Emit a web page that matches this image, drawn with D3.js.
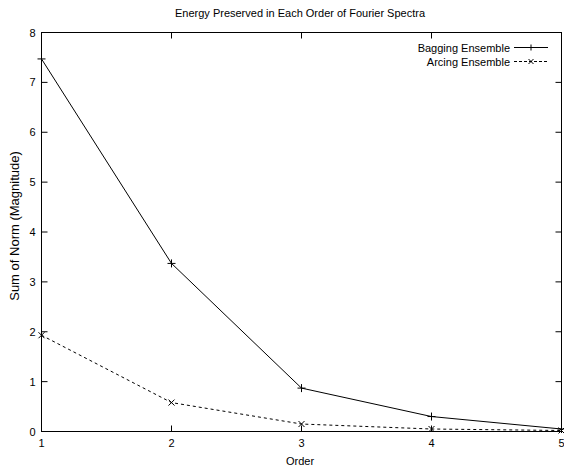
<!DOCTYPE html>
<html><head><meta charset="utf-8">
<script src="https://cdn.jsdelivr.net/npm/d3@7"></script>
<style>body{margin:0;background:#fff}svg{display:block;font-family:"Liberation Sans",Arial,sans-serif}</style>
</head><body>
<svg id="c" width="564" height="469"></svg>
<script>
const orders = [1, 2, 3, 4, 5];
const bagging = [7.47, 3.37, 0.87, 0.30, 0.05];
const arcing = [1.93, 0.58, 0.15, 0.05, 0.02];
const xTicks = [1, 2, 3, 4, 5];
const yTicks = [0, 1, 2, 3, 4, 5, 6, 7, 8];
const seriesNames = ["Bagging Ensemble", "Arcing Ensemble"];

const svg = d3.select("#c");
const L = 41.5, R = 561.5, T = 32.5, B = 431.5;
const x = d3.scaleLinear().domain([1, 5]).range([L, R]);
const y = d3.scaleLinear().domain([0, 8]).range([B, T]);

svg.append("rect").attr("x", L).attr("y", T).attr("width", R - L).attr("height", B - T)
  .attr("fill", "none").attr("stroke", "#000").attr("stroke-width", 1);

const tl = 6;
const g = svg.append("g").attr("stroke", "#000").attr("stroke-width", 1);
xTicks.forEach(t => {
  g.append("line").attr("x1", x(t)).attr("x2", x(t)).attr("y1", B).attr("y2", B - tl);
  g.append("line").attr("x1", x(t)).attr("x2", x(t)).attr("y1", T).attr("y2", T + tl);
});
yTicks.forEach(t => {
  g.append("line").attr("y1", y(t)).attr("y2", y(t)).attr("x1", L).attr("x2", L + tl);
  g.append("line").attr("y1", y(t)).attr("y2", y(t)).attr("x1", R).attr("x2", R - tl);
});

const fs = 11;
xTicks.forEach(t => {
  svg.append("text").attr("x", x(t)).attr("y", B + 15).attr("text-anchor", "middle")
    .attr("font-size", fs).text(t);
});
yTicks.forEach(t => {
  svg.append("text").attr("x", L - 6).attr("y", y(t) + 4).attr("text-anchor", "end")
    .attr("font-size", fs).text(t);
});

svg.append("text").attr("x", 300).attr("y", 17).attr("text-anchor", "middle")
  .attr("font-size", fs).text("Energy Preserved in Each Order of Fourier Spectra");
svg.append("text").attr("x", 300).attr("y", 465).attr("text-anchor", "middle")
  .attr("font-size", fs).text("Order");
svg.append("text").attr("transform", "translate(19,226) rotate(-90)")
  .attr("text-anchor", "middle").attr("font-size", 13).text("Sum of Norm (Magnitude)");

const line = d3.line().x((d, i) => x(orders[i])).y(d => y(d));
const plus = (sel, cx, cy, s) => {
  sel.append("path").attr("d", `M${cx-s},${cy}H${cx+s}M${cx},${cy-s}V${cy+s}`)
    .attr("stroke", "#000").attr("stroke-width", 1).attr("fill", "none");
};
const cross = (sel, cx, cy, s) => {
  sel.append("path").attr("d", `M${cx-s},${cy-s}L${cx+s},${cy+s}M${cx-s},${cy+s}L${cx+s},${cy-s}`)
    .attr("stroke", "#000").attr("stroke-width", 1).attr("fill", "none");
};

svg.append("path").datum(bagging).attr("d", line).attr("fill", "none")
  .attr("stroke", "#000").attr("stroke-width", 1);
svg.append("path").datum(arcing).attr("d", line).attr("fill", "none")
  .attr("stroke", "#000").attr("stroke-width", 1).attr("stroke-dasharray", "3,3");
bagging.forEach((v, i) => plus(svg, x(orders[i]), y(v), 4));
arcing.forEach((v, i) => cross(svg, x(orders[i]), y(v), 3));

const lg = svg.append("g");
const ly = [47.5, 61.5];
seriesNames.forEach((n, i) => {
  lg.append("text").attr("x", 510).attr("y", ly[i] + 4).attr("text-anchor", "end")
    .attr("font-size", fs).text(n);
  lg.append("line").attr("x1", 514).attr("x2", 548).attr("y1", ly[i]).attr("y2", ly[i])
    .attr("stroke", "#000").attr("stroke-width", 1)
    .attr("stroke-dasharray", i === 1 ? "3,2" : null);
  if (i === 0) plus(lg, 531, ly[i], 3); else cross(lg, 531, ly[i], 2.5);
});
</script>
</body></html>
